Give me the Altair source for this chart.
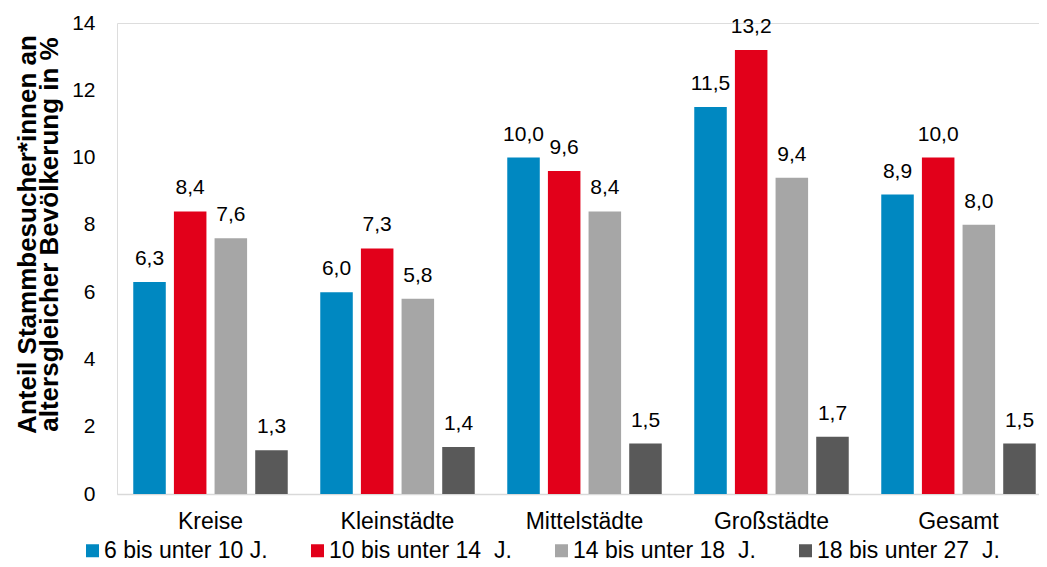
import altair as alt
import pandas as pd

categories = ["Kreise", "Kleinstädte", "Mittelstädte", "Großstädte", "Gesamt"]
series = ["6 bis unter 10 J.", "10 bis unter 14\u00a0 J.", "14 bis unter 18\u00a0 J.", "18 bis unter 27\u00a0 J."]
colors = ["#0088C1", "#E2001A", "#A6A6A6", "#595959"]
values = {
    series[0]: [6.3, 6.0, 10.0, 11.5, 8.9],
    series[1]: [8.4, 7.3, 9.6, 13.2, 10.0],
    series[2]: [7.6, 5.8, 8.4, 9.4, 8.0],
    series[3]: [1.3, 1.4, 1.5, 1.7, 1.5],
}

rows = []
for s in series:
    for c, v in zip(categories, values[s]):
        rows.append({"cat": c, "series": s, "value": v, "label": f"{v:.1f}".replace(".", ",")})
df = pd.DataFrame(rows)

font = "Liberation Sans"

base = alt.Chart(df).encode(
    x=alt.X("cat:N", sort=categories, title=None,
            scale=alt.Scale(paddingInner=0, paddingOuter=0),
            axis=alt.Axis(labelAngle=0, labelFontSize=23, labelFont=font, labelColor="#000000",
                          ticks=False, domainColor="#D9D9D9", domainWidth=1.5, labelPadding=16)),
    xOffset=alt.XOffset("series:N", sort=series,
                        scale=alt.Scale(paddingInner=0.2, paddingOuter=0.4)),
)

bars = base.mark_bar().encode(
    y=alt.Y("value:Q", title=["Anteil Stammbesucher*innen an", "altersgleicher Bevölkerung in %"],
            scale=alt.Scale(domain=[0, 14]),
            axis=alt.Axis(values=[0, 2, 4, 6, 8, 10, 12, 14], grid=False, domain=False, ticks=False,
                          labelFontSize=21, labelFont=font, labelColor="#000000", labelPadding=22,
                          titleFontSize=26, titleFont=font, titleFontWeight="bold", titleColor="#000000",
                          titlePadding=9, titleLineHeight=22, titleY=211)),
    color=alt.Color("series:N", sort=series, scale=alt.Scale(domain=series, range=colors),
                    legend=alt.Legend(title=None, orient="none", direction="horizontal",
                                      legendX=-36, legendY=516, symbolType="square", symbolSize=169,
                                      symbolStrokeWidth=0, labelFontSize=23, labelFont=font,
                                      labelColor="#000000", columnPadding=38, labelOffset=0,
                                      labelLimit=400)),
)

labels = base.mark_text(dy=-17, baseline="alphabetic", fontSize=21, font=font, color="#000000").encode(
    y=alt.Y("value:Q"),
    text="label:N",
)

chart = alt.layer(bars, labels).properties(
    width=935, height=471,
    autosize=alt.AutoSizeParams(type="none"),
    padding={"left": 109, "top": 15, "right": -13, "bottom": 65},
).configure_view(strokeWidth=0).configure(background="white")

chart.save("out.html", embed_options={"renderer": "svg", "actions": False})
